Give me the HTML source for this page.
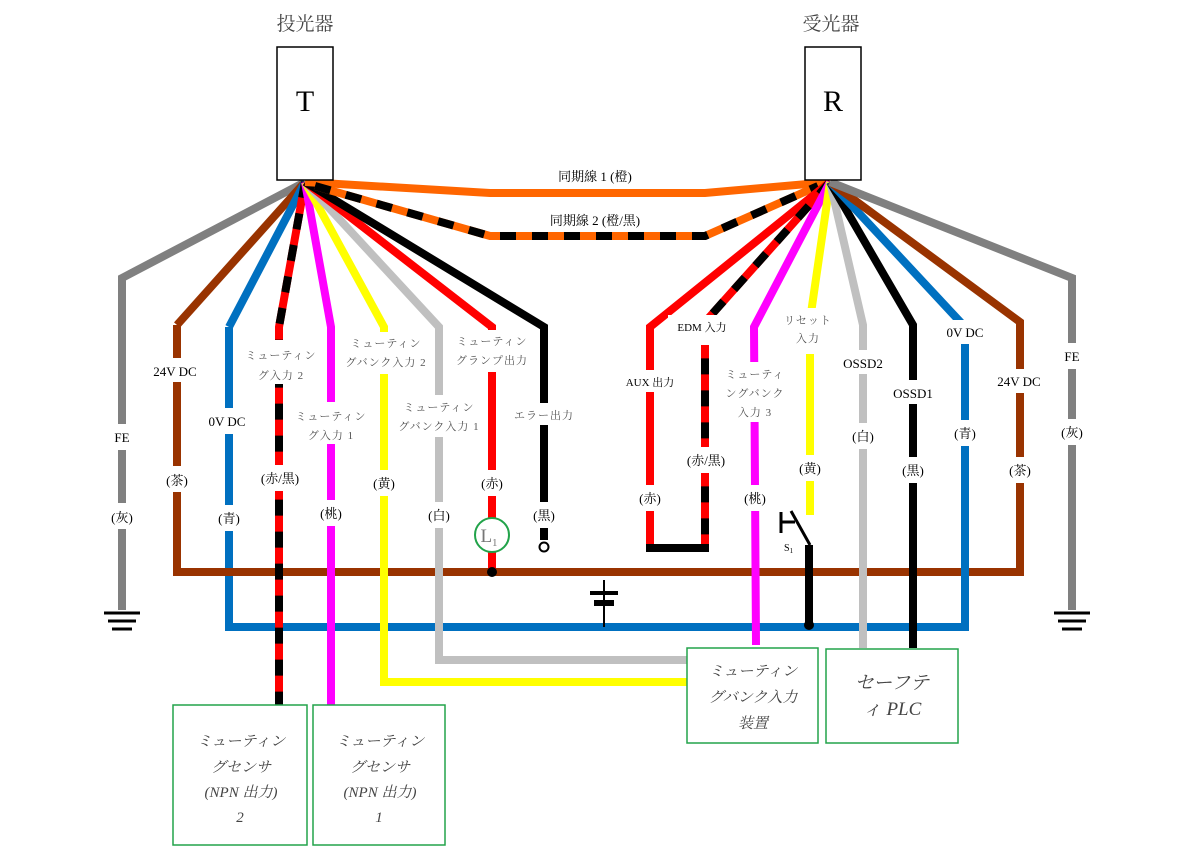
<!DOCTYPE html>
<html><head><meta charset="utf-8"><style>
html,body{margin:0;padding:0;background:#fff;}
svg{display:block;font-family:"Liberation Serif","Noto Serif CJK SC",serif;}
.l{font-size:13px;fill:#000;text-anchor:middle;}
.s{font-size:11px;fill:#555;text-anchor:middle;letter-spacing:1px;}
.b{font-size:15px;fill:#444;text-anchor:middle;font-style:italic;}
</style></head><body>
<svg width="1184" height="860" viewBox="0 0 1184 860" xmlns="http://www.w3.org/2000/svg">
<g fill="none" stroke-width="8" stroke-linejoin="miter">
<!-- bus lines -->
<path d="M229 327 V627 H965" stroke="#0070c0"/>
<path d="M177 325 V572 H1020" stroke="#993300"/>
<!-- left wires -->
<path d="M305 182 L122 278 V610" stroke="#808080"/>
<path d="M305 182 L177 325" stroke="#993300"/>
<path d="M305 182 L229 327" stroke="#0070c0"/>
<path d="M305 182 L279 327 V705" stroke="#ff0000"/>
<path d="M305 182 L279 327 V705" stroke="#000" stroke-dasharray="16 16"/>
<path d="M305 182 L331 327 V705" stroke="#ff00ff"/>
<path d="M305 182 L384 327 V682 H687" stroke="#ffff00"/>
<path d="M305 182 L439 327 V660 H687" stroke="#c0c0c0"/>
<path d="M305 182 L492 327 V572" stroke="#ff0000"/>
<path d="M305 182 L544 327 V540" stroke="#000"/>
<!-- sync -->
<path d="M305 182 L490 193 H705 L830 182" stroke="#ff6600"/>
<path d="M315 186 L490 236 H705 L818 186" stroke="#ff6600"/>
<path d="M315 186 L490 236 H705 L818 186" stroke="#000" stroke-dasharray="16 16"/>
<!-- right wires -->
<path d="M830 182 L650 327 V548" stroke="#ff0000"/>
<path d="M830 182 L705 322 V548" stroke="#ff0000"/>
<path d="M830 182 L705 322 V548" stroke="#000" stroke-dasharray="16 16"/>
<path d="M646 548 H709" stroke="#000"/>
<path d="M830 182 L754 327 L756 645" stroke="#ff00ff"/>
<path d="M830 182 L810 320 V515" stroke="#ffff00"/>
<path d="M830 182 L863 325 V648" stroke="#c0c0c0"/>
<path d="M830 182 L913 325 V648" stroke="#000"/>
<path d="M830 182 L965 327 V631" stroke="#0070c0"/>
<path d="M830 182 L1020 322 V576" stroke="#993300"/>
<path d="M830 182 L1072 278 V610" stroke="#808080"/>
<path d="M809 545 V625" stroke="#000"/>
</g>
<!-- switch -->
<g stroke="#000" stroke-width="3" fill="none">
<path d="M781 512 V533 M781 522 H795 M791 511 L810 545"/>
</g>
<circle cx="809" cy="625" r="5" fill="#000"/>
<circle cx="492" cy="572" r="5" fill="#000"/>
<!-- error terminal -->
<circle cx="544" cy="547" r="4.5" fill="#fff" stroke="#000" stroke-width="2"/>
<!-- L1 -->
<circle cx="492" cy="535" r="17" fill="#fff" stroke="#22a34a" stroke-width="2"/>
<text x="489" y="542" font-size="19" fill="#777" text-anchor="middle">L<tspan font-size="11" dy="4">1</tspan></text>
<!-- battery -->
<g stroke="#000">
<line x1="604" y1="580" x2="604" y2="627" stroke-width="2"/>
<line x1="590" y1="593" x2="618" y2="593" stroke-width="4"/>
<line x1="594" y1="603" x2="614" y2="603" stroke-width="6"/>
</g>
<!-- grounds -->
<g stroke="#000" stroke-width="3">
<line x1="104" y1="613" x2="140" y2="613"/><line x1="108" y1="621" x2="136" y2="621"/><line x1="112" y1="629" x2="132" y2="629"/>
<line x1="1054" y1="613" x2="1090" y2="613"/><line x1="1058" y1="621" x2="1086" y2="621"/><line x1="1062" y1="629" x2="1082" y2="629"/>
</g>
<!-- T/R boxes -->
<rect x="277" y="47" width="56" height="133" fill="#fff" stroke="#000" stroke-width="1.5"/>
<rect x="805" y="47" width="56" height="133" fill="#fff" stroke="#000" stroke-width="1.5"/>
<text x="305" y="111" font-size="30" text-anchor="middle">T</text>
<text x="833" y="111" font-size="30" text-anchor="middle">R</text>
<text x="305" y="30" font-size="19" fill="#444" text-anchor="middle">投光器</text>
<text x="831" y="30" font-size="19" fill="#444" text-anchor="middle">受光器</text>
<!-- label background patches -->
<g fill="#fff">
<rect x="100" y="424" width="44" height="26"/><rect x="100" y="503" width="44" height="26"/>
<rect x="140" y="358" width="74" height="24"/><rect x="160" y="466" width="34" height="26"/>
<rect x="200" y="408" width="58" height="26"/><rect x="210" y="505" width="38" height="26"/>
<rect x="240" y="340" width="80" height="44"/><rect x="255" y="465" width="50" height="26"/>
<rect x="290" y="402" width="82" height="42"/><rect x="314" y="500" width="34" height="26"/>
<rect x="340" y="332" width="92" height="42"/><rect x="366" y="470" width="34" height="26"/>
<rect x="393" y="395" width="92" height="42"/><rect x="422" y="502" width="34" height="26"/>
<rect x="448" y="330" width="90" height="42"/><rect x="475" y="470" width="34" height="26"/>
<rect x="508" y="403" width="72" height="22"/><rect x="527" y="502" width="34" height="26"/>
<rect x="620" y="370" width="62" height="22"/><rect x="633" y="485" width="34" height="26"/>
<rect x="668" y="315" width="70" height="30"/><rect x="678" y="447" width="56" height="26"/>
<rect x="720" y="362" width="72" height="60"/><rect x="738" y="485" width="34" height="26"/>
<rect x="780" y="308" width="58" height="46"/><rect x="793" y="455" width="34" height="26"/>
<rect x="836" y="350" width="56" height="24"/><rect x="846" y="423" width="34" height="26"/>
<rect x="886" y="380" width="56" height="24"/><rect x="896" y="457" width="34" height="26"/>
<rect x="937" y="320" width="56" height="24"/><rect x="948" y="420" width="34" height="26"/>
<rect x="988" y="369" width="62" height="24"/><rect x="1003" y="457" width="34" height="26"/>
<rect x="1055" y="343" width="36" height="26"/><rect x="1055" y="419" width="36" height="26"/>
<rect x="520" y="163" width="150" height="22"/><rect x="515" y="207" width="160" height="22"/>
</g>
<!-- labels -->
<text class="l" x="595" y="181">同期線 1 (橙)</text>
<text class="l" x="595" y="225">同期線 2 (橙/黒)</text>
<text class="l" x="122" y="442">FE</text><text class="l" x="122" y="522">(灰)</text>
<text class="l" x="175" y="376">24V DC</text><text class="l" x="177" y="485">(茶)</text>
<text class="l" x="227" y="426">0V DC</text><text class="l" x="229" y="523">(青)</text>
<text class="s" x="281" y="359">ミューティン</text><text class="s" x="281" y="379">グ入力 2</text><text class="l" x="280" y="483">(赤/黒)</text>
<text class="s" x="331" y="420">ミューティン</text><text class="s" x="331" y="439">グ入力 1</text><text class="l" x="331" y="518">(桃)</text>
<text class="s" x="386" y="347">ミューティン</text><text class="s" x="386" y="366">グバンク入力 2</text><text class="l" x="384" y="488">(黄)</text>
<text class="s" x="439" y="411">ミューティン</text><text class="s" x="439" y="430">グバンク入力 1</text><text class="l" x="439" y="520">(白)</text>
<text class="s" x="492" y="345">ミューティン</text><text class="s" x="492" y="364">グランプ出力</text><text class="l" x="492" y="488">(赤)</text>
<text class="s" x="544" y="419">エラー出力</text><text class="l" x="544" y="520">(黒)</text>
<text class="l" x="650" y="386" style="font-size:11px">AUX 出力</text><text class="l" x="650" y="503">(赤)</text>
<text class="l" x="702" y="331" style="font-size:11px">EDM 入力</text><text class="l" x="706" y="465">(赤/黒)</text>
<text class="s" x="755" y="378">ミューティ</text><text class="s" x="755" y="397">ングバンク</text><text class="s" x="755" y="416">入力 3</text><text class="l" x="755" y="503">(桃)</text>
<text class="s" x="808" y="324">リセット</text><text class="s" x="808" y="342">入力</text><text class="l" x="810" y="473">(黄)</text>
<text class="l" x="863" y="368">OSSD2</text><text class="l" x="863" y="441">(白)</text>
<text class="l" x="913" y="398">OSSD1</text><text class="l" x="913" y="475">(黒)</text>
<text class="l" x="965" y="337">0V DC</text><text class="l" x="965" y="438">(青)</text>
<text class="l" x="1019" y="386">24V DC</text><text class="l" x="1020" y="475">(茶)</text>
<text class="l" x="1072" y="361">FE</text><text class="l" x="1072" y="437">(灰)</text>
<text x="784" y="551" font-size="10">S<tspan font-size="7" dy="2">1</tspan></text>
<!-- device boxes -->
<g fill="#fff" stroke="#22a34a" stroke-width="1.5">
<rect x="173" y="705" width="134" height="140"/>
<rect x="313" y="705" width="132" height="140"/>
<rect x="687" y="648" width="131" height="95"/>
<rect x="826" y="649" width="132" height="94"/>
</g>
<text class="b" x="241" y="746">ミューティン</text><text class="b" x="241" y="772">グセンサ</text><text class="b" x="241" y="797">(NPN 出力)</text><text class="b" x="240" y="822">2</text>
<text class="b" x="380" y="746">ミューティン</text><text class="b" x="380" y="772">グセンサ</text><text class="b" x="380" y="797">(NPN 出力)</text><text class="b" x="379" y="822">1</text>
<text class="b" x="753" y="676">ミューティン</text><text class="b" x="753" y="702">グバンク入力</text><text class="b" x="753" y="728">装置</text>
<text class="b" x="892" y="689" style="font-size:19px">セーフテ</text><text class="b" x="892" y="715" style="font-size:19px">ィ PLC</text>
</svg>
</body></html>
